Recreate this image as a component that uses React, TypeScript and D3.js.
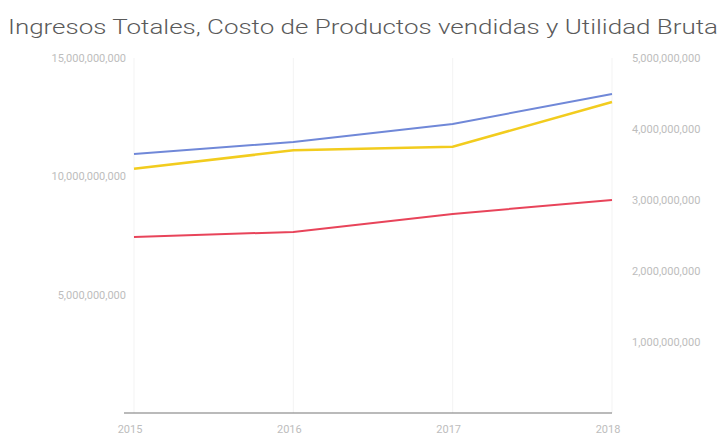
import React from "react";
import * as d3 from "d3";

const years = ["2015", "2016", "2017", "2018"];
const ingresosTotales = [10.94e9, 11.45e9, 12.21e9, 13.48e9];
const costoProductos = [7.44e9, 7.65e9, 8.41e9, 9.0e9];
const utilidadBruta = [3.44e9, 3.7e9, 3.75e9, 4.38e9];
const leftTicks = [5e9, 10e9, 15e9];
const rightTicks = [1e9, 2e9, 3e9, 4e9, 5e9];
const title = "Ingresos Totales, Costo de Productos vendidas y Utilidad Bruta";

const W = 724, H = 436;
const M = { left: 134, right: 112, top: 58, bottom: 23 };

export default function App() {
  const x = d3.scalePoint().domain(years).range([M.left, W - M.right]);
  const yL = d3.scaleLinear().domain([0, 15e9]).range([H - M.bottom, M.top]);
  const yR = d3.scaleLinear().domain([0, 5e9]).range([H - M.bottom, M.top]);
  const fmt = d3.format(",");
  const lineL = d3.line<number>().x((_, i) => x(years[i])!).y((d) => yL(d));
  const lineR = d3.line<number>().x((_, i) => x(years[i])!).y((d) => yR(d));
  const font = "Roboto, 'Noto Sans', sans-serif";
  return (
    <svg width={W} height={H} style={{ position: "absolute", left: 0, top: 0, background: "#fff" }}>
      <text x={8} y={34} fontFamily={font} fontWeight={300} fontSize={20} fill="#5a5a5a" textLength={710} lengthAdjust="spacingAndGlyphs">
        {title}
      </text>
      {years.map((y) => (
        <line key={y} x1={x(y)} x2={x(y)} y1={M.top} y2={H - M.bottom} stroke="#f3f3f3" />
      ))}
      {leftTicks.map((t) => (
        <text key={t} x={126} y={yL(t) + 4} textAnchor="end" fontFamily={font} fontSize={11} fill="#bdbdbd">
          {fmt(t)}
        </text>
      ))}
      {rightTicks.map((t) => (
        <text key={t} x={632} y={yR(t) + 4} textAnchor="start" fontFamily={font} fontSize={11} fill="#bdbdbd">
          {fmt(t)}
        </text>
      ))}
      {years.map((y) => (
        <text key={y} x={x(y)! - 4} y={433} textAnchor="middle" fontFamily={font} fontSize={11} fill="#bdbdbd">
          {y}
        </text>
      ))}
      <line x1={M.left - 10} x2={W - M.right} y1={yL(0)} y2={yL(0)} stroke="#777" strokeWidth={1.2} />
      <path d={lineL(ingresosTotales)!} fill="none" stroke="#7088d8" strokeWidth={2} />
      <path d={lineL(costoProductos)!} fill="none" stroke="#e8445a" strokeWidth={2} />
      <path d={lineR(utilidadBruta)!} fill="none" stroke="#f2cc1e" strokeWidth={2.5} />
    </svg>
  );
}
